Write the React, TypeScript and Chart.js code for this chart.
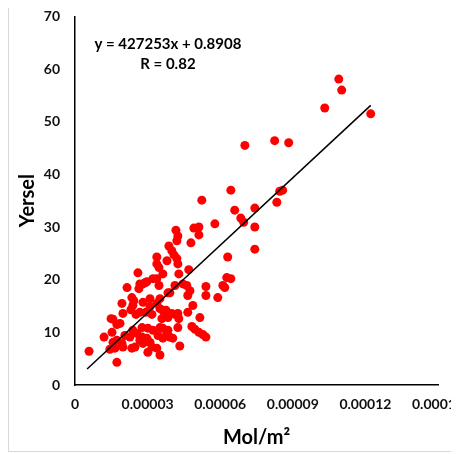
import React, { useEffect, useRef } from "react";
import { Chart, registerables } from "chart.js";

Chart.register(...registerables);

// Mol/m² values, in units of 1e-5
const molE5 = [
  10.90, 11.02, 10.32, 12.22, 7.02, 8.25, 8.83, 6.44, 5.24, 8.46,
  8.58, 8.34, 6.60, 7.43, 6.85, 6.97, 5.78, 7.43, 7.43, 6.31,
  4.91, 5.12, 5.12, 4.79, 4.70, 6.27, 6.44, 5.41, 6.11, 6.19,
  5.41, 5.90, 5.16, 4.83, 4.95, 5.12, 5.28, 5.41, 4.17, 4.25,
  4.21, 3.88, 4.00, 4.09, 4.21, 4.25, 3.38, 3.38, 3.47, 3.80,
  2.60, 3.63, 4.29, 2.97, 2.81, 3.38, 3.47, 2.15, 2.64, 3.84,
  4.13, 4.46, 4.62, 4.75, 4.66, 4.87, 4.66, 4.29, 4.25, 4.33,
  1.94, 2.35, 2.43, 2.39, 2.31, 2.68, 2.52, 2.81, 3.10, 3.10,
  2.93, 3.18, 3.38, 3.51, 3.63, 3.76, 3.71, 3.59, 3.84, 4.00,
  4.13, 4.25, 1.49, 1.57, 1.73, 1.86, 1.53, 1.20, 0.58, 1.44,
  1.65, 1.73, 1.94, 1.98, 2.06, 2.27, 2.39, 2.56, 2.77, 2.35,
  2.48, 2.68, 2.81, 2.97, 3.10, 3.01, 3.18, 3.38, 3.51, 3.43,
  3.63, 3.80, 3.92, 4.04, 3.51, 3.63, 3.84, 3.01, 3.22, 2.77,
  2.68, 2.89, 3.51, 3.92, 1.98, 1.57, 1.73, 3.22,
];

const yersel = [
  58.1, 56.0, 52.6, 51.5, 45.5, 46.4, 46.0, 37.0, 35.1, 36.8,
  37.0, 34.7, 33.2, 33.6, 31.7, 30.9, 30.6, 30.0, 25.8, 24.3,
  29.8, 30.0, 28.5, 27.0, 21.9, 20.4, 20.2, 18.7, 18.9, 18.5,
  17.0, 16.6, 12.8, 11.1, 10.6, 10.0, 9.6, 9.1, 29.4, 28.3,
  27.4, 26.4, 25.5, 24.7, 24.0, 23.0, 24.3, 23.0, 22.3, 23.6,
  21.3, 21.1, 21.1, 19.6, 19.2, 20.2, 18.9, 18.5, 18.3, 17.5,
  18.9, 19.2, 18.9, 17.9, 17.0, 15.1, 13.8, 12.6, 10.9, 7.4,
  15.5, 16.6, 16.0, 15.1, 14.3, 13.8, 13.4, 15.7, 16.4, 14.9,
  13.8, 13.4, 15.5, 14.5, 14.2, 14.2, 13.4, 12.6, 12.8, 13.6,
  13.4, 13.6, 12.6, 12.5, 11.5, 11.7, 10.0, 9.1, 6.4, 6.8,
  7.0, 4.3, 7.9, 7.2, 9.4, 9.1, 10.4, 9.8, 9.1, 7.0,
  7.2, 8.5, 7.9, 8.9, 8.1, 6.2, 7.2, 7.0, 5.7, 9.4,
  8.9, 9.8, 9.1, 8.9, 10.9, 10.8, 10.4, 10.8, 10.4, 10.9,
  19.2, 19.4, 16.4, 17.5, 13.6, 8.1, 8.5, 20.2,
];

const trendSlope = 427253;
const trendIntercept = 0.8908;
const trendX = [0.000005, 0.0001222];

const xTickLabels = ["0", "0.00003", "0.00006", "0.00009", "0.00012", "0.00015"];
const eqLines = ["y = 427253x + 0.8908", "R = 0.82"];
const eqAnchorX = 0.0000384;
const eqAnchorY = [64.8, 60.9];

const FONT = "Lato, 'Open Sans', 'DejaVu Sans', sans-serif";

export default function App() {
  const ref = useRef<HTMLCanvasElement>(null);

  useEffect(() => {
    const points = molE5.map((v, i) => ({ x: v * 1e-5, y: yersel[i] }));
    const trend = trendX.map((x) => ({ x, y: trendSlope * x + trendIntercept }));

    const eqPlugin = {
      id: "eqText",
      afterDatasetsDraw(chart: any) {
        const { ctx, scales } = chart;
        const sx = scales.x;
        const sy = scales.y;
        ctx.save();
        ctx.font = `bold 15px ${FONT}`;
        ctx.fillStyle = "#000";
        ctx.textAlign = "center";
        ctx.textBaseline = "middle";
        eqLines.forEach((t, i) => {
          ctx.fillText(t, sx.getPixelForValue(eqAnchorX), sy.getPixelForValue(eqAnchorY[i]));
        });
        ctx.restore();
      },
    };

    const chart = new Chart(ref.current as HTMLCanvasElement, {
      type: "scatter",
      data: {
        datasets: [
          {
            type: "line",
            data: trend,
            borderColor: "#000",
            borderWidth: 1.5,
            pointRadius: 0,
            fill: false,
            order: 0,
          } as any,
          {
            data: points,
            backgroundColor: "#ff0000",
            borderWidth: 0,
            pointRadius: 4.5,
            order: 1,
          },
        ],
      },
      options: {
        responsive: false,
        animation: false,
        devicePixelRatio: 1,
        layout: { padding: { top: 2, right: 40, bottom: 0, left: 0 } },
        plugins: { legend: { display: false }, tooltip: { enabled: false } },
        scales: {
          x: {
            type: "linear",
            min: 0,
            max: 0.00015,
            grid: { display: false, drawTicks: false },
            border: { display: true, color: "#000", width: 1.5 },
            ticks: {
              stepSize: 0.00003,
              padding: 11,
              color: "#111",
              autoSkip: false,
              maxRotation: 0,
              font: { family: FONT, size: 14, weight: "bold" },
              callback: (_v: any, i: number) => xTickLabels[i],
            },
            title: {
              display: true,
              text: "Mol/m²",
              color: "#000",
              font: { family: FONT, size: 20, weight: "bold" },
              padding: { top: 0, bottom: 0 },
            },
            afterFit: (s: any) => {
              s.height = 65;
            },
          } as any,
          y: {
            type: "linear",
            min: 0,
            max: 70,
            grid: { display: false, drawTicks: false },
            border: { display: true, color: "#000", width: 1.5 },
            ticks: {
              stepSize: 10,
              padding: 15,
              color: "#111",
              font: { family: FONT, size: 14, weight: "bold" },
            },
            title: {
              display: true,
              text: "Yersel",
              color: "#000",
              font: { family: FONT, size: 20, weight: "bold" },
              padding: { top: 8, bottom: 0 },
            },
            afterFit: (s: any) => {
              s.width = 67;
            },
          } as any,
        },
      },
      plugins: [eqPlugin],
    });
    return () => chart.destroy();
  }, []);

  return (
    <div style={{ width: 451, height: 452, marginTop: -6, overflow: "hidden", position: "relative" }}>
      <div
        style={{
          position: "absolute",
          left: 0,
          top: 0,
          width: 470,
          height: 450,
          border: "1px solid #d9d9d9",
          boxSizing: "border-box",
        }}
      />
      <canvas ref={ref} width={470} height={457} style={{ position: "absolute", left: 0, top: -9 }} />
    </div>
  );
}
